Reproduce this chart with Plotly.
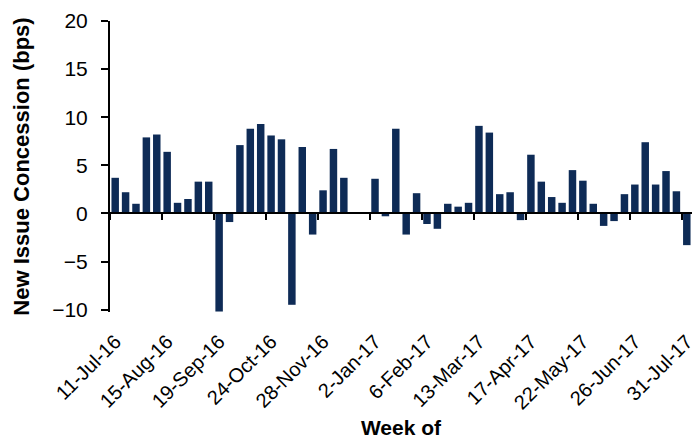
import plotly.graph_objects as go

weeks = [
    "11-Jul-16", "18-Jul-16", "25-Jul-16", "1-Aug-16", "8-Aug-16", "15-Aug-16", "22-Aug-16", "29-Aug-16",
    "5-Sep-16", "12-Sep-16", "19-Sep-16", "26-Sep-16", "3-Oct-16", "10-Oct-16", "17-Oct-16", "24-Oct-16",
    "31-Oct-16", "7-Nov-16", "14-Nov-16", "21-Nov-16", "28-Nov-16", "5-Dec-16", "12-Dec-16", "19-Dec-16",
    "26-Dec-16", "2-Jan-17", "9-Jan-17", "16-Jan-17", "23-Jan-17", "30-Jan-17", "6-Feb-17", "13-Feb-17",
    "20-Feb-17", "27-Feb-17", "6-Mar-17", "13-Mar-17", "20-Mar-17", "27-Mar-17", "3-Apr-17", "10-Apr-17",
    "17-Apr-17", "24-Apr-17", "1-May-17", "8-May-17", "15-May-17", "22-May-17", "29-May-17", "5-Jun-17",
    "12-Jun-17", "19-Jun-17", "26-Jun-17", "3-Jul-17", "10-Jul-17", "17-Jul-17", "24-Jul-17", "31-Jul-17",
]

concession = [
    3.7, 2.2, 1.0, 7.9, 8.2, 6.4, 1.1, 1.5, 3.3, 3.3,
    -10.2, -0.9, 7.1, 8.8, 9.3, 8.1, 7.7, -9.5, 6.9, -2.2,
    2.4, 6.7, 3.7, 0.0, 0.0, 3.6, -0.3, 8.8, -2.2, 2.1,
    -1.1, -1.6, 1.0, 0.7, 1.1, 9.1, 8.4, 2.0, 2.2, -0.7,
    6.1, 3.3, 1.7, 1.1, 4.5, 3.4, 1.0, -1.3, -0.8, 2.0,
    3.0, 7.4, 3.0, 4.4, 2.3, -3.3,
]

label_weeks = weeks[::5]
y_ticks = [-10, -5, 0, 5, 10, 15, 20]

y_min, y_max = -10.25, 20
n = len(weeks)
boundary_ticks = [i - 0.5 for i in range(0, n, 5)]

FONT = "Liberation Sans, Arial, sans-serif"

fig = go.Figure()
fig.add_trace(go.Bar(
    x=weeks, y=concession,
    marker=dict(color="#0E2B56", line=dict(width=0)),
    showlegend=False, hoverinfo="x+y",
))
# helper trace so the zero-positioned axis is drawn
fig.add_trace(go.Scatter(
    x=[-0.5, n - 0.5], y=[0, 0], xaxis="x2", yaxis="y",
    mode="lines", line=dict(width=0, color="rgba(0,0,0,0)"),
    showlegend=False, hoverinfo="skip",
))

fig.update_layout(
    template="none",
    width=692, height=436,
    margin=dict(l=102, r=8, t=13, b=132, autoexpand=False),
    paper_bgcolor="white", plot_bgcolor="white",
    bargap=0.28,
    font=dict(family=FONT, color="black"),
    xaxis=dict(
        type="category", automargin=False,
        range=[-0.5, n - 0.5],
        tickmode="array", tickvals=label_weeks, ticktext=label_weeks,
        tickangle=-45,
        tickfont=dict(size=20, family=FONT, color="black"),
        ticks="", showline=False, showgrid=False, zeroline=False,
        ticklabelstandoff=13,
        title=dict(text="Week of", font=dict(size=21, family=FONT, color="black", weight="bold"), standoff=7),
    ),
    xaxis2=dict(
        overlaying="x", anchor="free", automargin=False,
        position=(0 - y_min) / (y_max - y_min),
        type="linear", range=[-0.5, n - 0.5],
        tickmode="array", tickvals=boundary_ticks,
        ticks="outside", ticklen=6, tickwidth=2, tickcolor="black",
        showticklabels=False, showline=True, linewidth=2, linecolor="black",
        showgrid=False, zeroline=False,
    ),
    yaxis=dict(
        range=[y_min, y_max], automargin=False,
        tickmode="array", tickvals=y_ticks,
        ticks="outside", ticklen=7, tickwidth=2, tickcolor="black",
        showline=True, linewidth=2, linecolor="black",
        showgrid=False, zeroline=False,
        tickfont=dict(size=21, family=FONT, color="black"),
        ticklabelstandoff=9,
        title=dict(text="New Issue Concession (bps)", font=dict(size=22, family=FONT, color="black", weight="bold"), standoff=16),
    ),
)

fig.write_html("out.html")
